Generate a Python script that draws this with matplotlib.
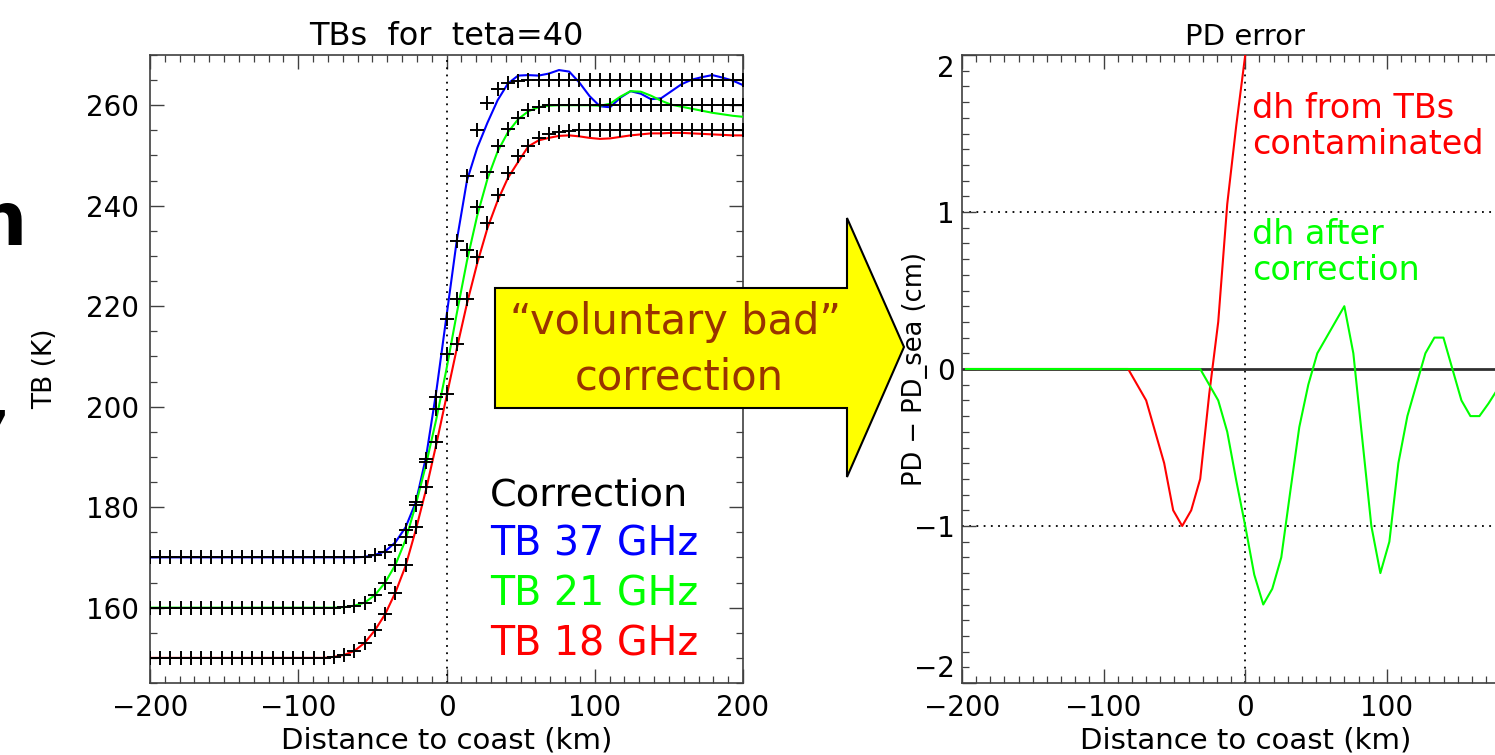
import numpy as np
import matplotlib
matplotlib.use("Agg")
import matplotlib.pyplot as plt
from matplotlib.ticker import MultipleLocator
from matplotlib.patches import Polygon

plt.rcParams['font.family'] = ['DejaVu Sans']

# ---------------- data: left panel (TBs for teta=40) ----------------
# sample positions of crosses / lines (km), 59 samples from -200 to 200
x_left = np.linspace(-200, 200, 59)

# "true" TBs (crosses)
tb37_cross = [170.0] * 21 + [170.1, 170.4, 171.0, 172.5, 175.5, 180.5, 189.0, 202.0, 217.5,
                             233.0, 246.0, 255.0, 260.5, 263.3, 264.5, 264.9] + [265.0] * 22
tb21_cross = [160.0] * 19 + [160.1, 160.4, 161.0, 162.5, 165.0, 168.5, 174.0, 181.0, 189.5,
                             199.5, 210.5, 221.5, 231.2, 239.7, 246.7, 251.8, 255.3, 257.5,
                             259.0, 259.7, 260.0] + [260.0] * 19
tb18_cross = [150.0] * 18 + [150.2, 150.6, 151.4, 153.0, 155.5, 158.7, 163.0, 168.5, 176.0,
                             184.0, 193.0, 202.5, 212.5, 221.5, 229.8, 236.6, 242.2, 246.5,
                             249.8, 251.8, 253.4, 254.3, 254.7, 254.9] + [255.0] * 17

# corrected TBs (lines)
tb37_line = [170.0] * 21 + [170.1, 170.5, 171.2, 173.0, 176.0, 181.0, 190.0, 203.0, 218.0,
                            233.0, 245.0, 251.5, 256.5, 261.0, 264.3, 265.9, 266.0, 265.9,
                            266.3, 267.0, 266.7, 264.5, 261.8, 259.8, 259.6, 261.5, 262.8,
                            262.3, 261.2, 261.4, 262.8, 264.2, 265.1, 265.6, 266.0, 265.5,
                            264.9, 264.0]
tb21_line = [160.0] * 19 + [160.1, 160.4, 161.0, 162.5, 165.0, 168.5, 173.5, 180.5, 188.5,
                            197.5, 207.5, 218.5, 229.0, 238.0, 245.3, 250.8, 254.6, 257.2,
                            258.8, 259.6, 259.9, 260.0, 260.0, 260.0, 260.0, 259.9, 260.3,
                            261.7, 262.8, 262.7, 261.9, 260.9, 260.1, 259.7, 259.3, 258.9,
                            258.5, 258.2, 257.9, 257.7]
tb18_line = [150.0] * 18 + [150.2, 150.6, 151.4, 153.0, 155.5, 158.7, 163.0, 168.3, 175.5,
                            183.5, 192.5, 202.0, 211.5, 220.5, 228.5, 235.5, 241.0, 245.5,
                            248.7, 251.8, 253.0, 253.5, 253.9, 254.0, 253.8, 253.5, 253.3,
                            253.4, 253.7, 254.0, 254.2, 254.4, 254.4, 254.5, 254.5, 254.4,
                            254.3, 254.2, 254.1, 254.0, 254.0]

legend_title = "Correction"
legend_labels = ["TB 37 GHz", "TB 21 GHz", "TB 18 GHz"]
legend_colors = ["#0000FF", "#00FF00", "#FF0000"]

# ---------------- data: right panel (PD error) ----------------
x_right = np.arange(-31, 32) * 6.36
dh_contaminated = [0.0] * 18 + [0.0, -0.1, -0.2, -0.4, -0.6, -0.9, -1.0, -0.9, -0.7, -0.16,
                                0.3, 1.05, 1.55, 2.0, 2.6]
dh_corrected = [0.0] * 27 + [-0.1, -0.2, -0.4, -0.71, -1.0, -1.31, -1.5, -1.4, -1.2, -0.78,
                             -0.37, -0.1, 0.1, 0.2, 0.3, 0.4, 0.1, -0.45, -1.0, -1.3, -1.1,
                             -0.6, -0.3, -0.1, 0.1, 0.2, 0.2, 0.0, -0.2, -0.3, -0.3, -0.22,
                             -0.13, -0.05, 0.0, 0.0]

W, H = 1495, 755
fig = plt.figure(figsize=(W / 100, H / 100), dpi=100)

def fx(px):
    return px / W

def fy(py):
    return 1 - py / H

frame_col = '#404040'
tick_fs = 20

def style_axes(ax, ypad=8):
    for s in ax.spines.values():
        s.set_color(frame_col)
        s.set_linewidth(1.2)
    ax.tick_params(which='both', direction='in', top=True, right=True, colors=frame_col,
                   labelcolor='black', labelsize=tick_fs)
    ax.tick_params(axis='x', which='both', pad=8)
    ax.tick_params(axis='y', which='both', pad=ypad)
    ax.tick_params(which='major', length=10, width=1.0)
    ax.tick_params(which='minor', length=5, width=0.9)

# ---------------- left axes ----------------
axL = fig.add_axes([fx(150), fy(683), fx(743 - 150), (683 - 55) / H])
axL.plot(x_left, tb37_line, color='#0000FF', lw=1.5, zorder=3)
axL.plot(x_left, tb21_line, color='#00FF00', lw=1.5, zorder=3)
axL.plot(x_left, tb18_line, color='#FF0000', lw=1.5, zorder=3)
for vals in (tb37_cross, tb21_cross, tb18_cross):
    axL.plot(x_left, vals, linestyle='none', marker='+', color='black',
             markersize=10.5, markeredgewidth=1.4, zorder=4)
axL.axvline(0, color='black', lw=1.3, linestyle=(0, (1, 3)), zorder=2)
axL.set_xlim(-200, 200)
axL.set_ylim(145, 270)
axL.xaxis.set_major_locator(MultipleLocator(100))
axL.xaxis.set_minor_locator(MultipleLocator(10))
axL.yaxis.set_major_locator(MultipleLocator(20))
axL.yaxis.set_minor_locator(MultipleLocator(5))
style_axes(axL)
axL.set_title("TBs  for  teta=40", fontsize=23, pad=7)
axL.set_xlabel("Distance to coast (km)", fontsize=21, labelpad=3)
axL.set_ylabel("TB (K)", fontsize=19)
axL.yaxis.set_label_coords((58 - 150) / 593, 0.5)

fig.text(fx(490), fy(495), legend_title, fontsize=27.5, color='black', ha='left', va='center')
for i, (lab, col) in enumerate(zip(legend_labels, legend_colors)):
    fig.text(fx(490), fy(545 + 50 * i), lab, fontsize=28.5, color=col, ha='left', va='center')

# ---------------- right axes ----------------
axR = fig.add_axes([fx(962), fy(683), (1528.5 - 962) / W, (683 - 55) / H])
axR.axhline(0, color='#303030', lw=2.0, zorder=2)
axR.axhline(1, color='black', lw=1.3, linestyle=(0, (1, 3)), zorder=1)
axR.axhline(-1, color='black', lw=1.3, linestyle=(0, (1, 3)), zorder=1)
axR.axvline(0, color='black', lw=1.3, linestyle=(0, (1, 3)), zorder=1)
axR.plot(x_right[:len(dh_contaminated)], dh_contaminated, color='#FF0000', lw=1.5, zorder=3)
axR.plot(x_right[:len(dh_corrected)], dh_corrected, color='#00FF00', lw=1.5, zorder=4)
axR.set_xlim(-200, 200)
axR.set_ylim(-2, 2)
axR.xaxis.set_major_locator(MultipleLocator(100))
axR.xaxis.set_minor_locator(MultipleLocator(10))
axR.set_yticks([-2, -1, 0, 1, 2])
axR.yaxis.set_minor_locator(MultipleLocator(0.1))
style_axes(axR, ypad=5)
yt = axR.yaxis.get_major_ticks()
yt[0].label1.set_verticalalignment('bottom')
yt[-1].label1.set_verticalalignment('top')
axR.set_title("PD error", fontsize=21, pad=7)
axR.set_xlabel("Distance to coast (km)", fontsize=21, labelpad=3)
axR.set_ylabel("PD \u2212 PD_sea (cm)", fontsize=18.5)
axR.yaxis.set_label_coords((928 - 962) / 566.5, 0.5)

fig.text(fx(1252), fy(108), "dh from TBs", fontsize=24, color='#FF0000', ha='left', va='center')
fig.text(fx(1252), fy(145), "contaminated", fontsize=24, color='#FF0000', ha='left', va='center')
fig.text(fx(1252), fy(234), "dh after", fontsize=24, color='#00FF00', ha='left', va='center')
fig.text(fx(1252), fy(271), "correction", fontsize=24, color='#00FF00', ha='left', va='center')

# ---------------- block arrow ----------------
arrow_px = [(495, 288), (847, 288), (847, 218), (904, 347), (847, 477), (847, 408), (495, 408)]
arrow = Polygon([(fx(a), fy(b)) for a, b in arrow_px], closed=True, transform=fig.transFigure,
                facecolor='#FFFF00', edgecolor='black', lw=1.5, zorder=10)
fig.add_artist(arrow)
fig.text(fx(676), fy(322), "\u201cvoluntary bad\u201d", fontsize=30, color='#993300',
         ha='center', va='center', zorder=11)
fig.text(fx(679), fy(378), "correction", fontsize=30, color='#993300',
         ha='center', va='center', zorder=11)

# fragments of slide text at the left edge
fig.text(fx(27), fy(245), "n", fontsize=53, color='black', ha='right', va='baseline',
         fontweight='bold')
fig.text(fx(10), fy(418), ",", fontsize=45, color='black', ha='right', va='baseline')

fig.savefig("out.png", dpi=100)
